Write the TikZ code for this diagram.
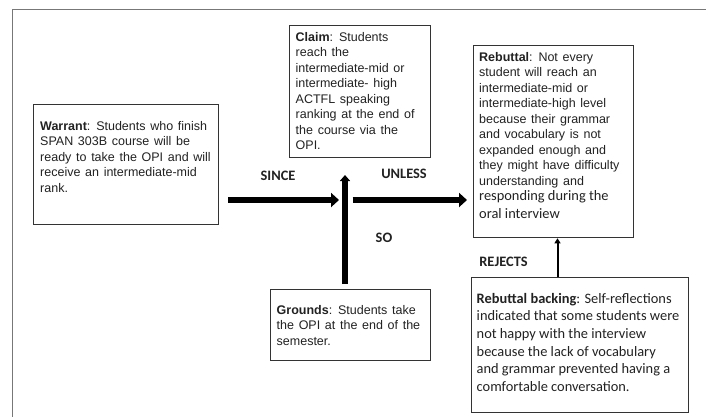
\documentclass[tikz,border=0pt]{standalone}
\usepackage{fontspec}
\setmainfont{Liberation Sans}[WordSpace=1.35]
\newfontfamily\calib{Carlito}
\usetikzlibrary{arrows.meta}
\definecolor{txt}{HTML}{222222}
\definecolor{boxline}{HTML}{333333}
\definecolor{frame}{HTML}{777777}
\tikzset{
  box/.style={draw=boxline, line width=1.3pt, rectangle, inner sep=0pt, anchor=north west},
  boxtext/.style={anchor=north west, inner sep=0pt, align=left, text=txt,
    font=\fontsize{12.5}{15.5}\selectfont},
  caltext/.style={anchor=north west, inner sep=0pt, align=left, text=txt,
    font=\calib\fontsize{14.4}{17.6}\selectfont},
  lbl/.style={inner sep=0pt, text=txt, font=\calib\bfseries\fontsize{14.4}{17}\selectfont},
  bigarrow/.style={line width=6pt, -{Triangle[width=14pt,length=8pt]}},
  vertarrow/.style={line width=6pt, -{Triangle[width=10pt,length=6pt]}},
  thinarrow/.style={line width=2pt, -{Triangle[width=6pt,length=5pt]}}
}
\begin{document}
\begin{tikzpicture}[x=1pt,y=-1pt]
\useasboundingbox (0,0) rectangle (706,416);
\clip (0,0) rectangle (706,416);
\fill[white] (0,0) rectangle (706,416);
\draw[frame, line width=1.5pt] (12.5,9.5) rectangle (730,440);

% boxes
\node[box, minimum width=185pt, minimum height=120pt] (warrant) at (33,104) {};
\node[box, minimum width=141pt, minimum height=132pt] (claim) at (289,25) {};
\node[box, minimum width=160pt, minimum height=192pt] (rebuttal) at (473,45) {};
\node[box, minimum width=160pt, minimum height=71pt] (grounds) at (270,289) {};
\node[box, minimum width=217pt, minimum height=135pt] (backing) at (470.5,277) {};

% texts
\node[boxtext] (warranttext) at (40,121) {\textbf{Warrant}: Students who finish\\SPAN 303B course will be\\ready to take the OPI and will\\receive an intermediate-mid\\rank.};
\node[boxtext] (claimtext) at (295.5,32) {\textbf{Claim}: Students\\reach the\\intermediate-mid or\\intermediate- high\\ACTFL speaking\\ranking at the end of\\the course via the\\OPI.};
\node[boxtext] (rebuttaltext) at (479,52) {\textbf{Rebuttal}: Not every\\student will reach an\\intermediate-mid or\\intermediate-high level\\because their grammar\\and vocabulary is not\\expanded enough and\\they might have difficulty\\understanding and};
\node[caltext] (rebuttaltext2) at (479,190.5) {responding during the\\oral interview};
\node[boxtext] (groundstext) at (276.5,305) {\textbf{Grounds}: Students take\\the OPI at the end of the\\semester.};
\node[caltext] (backingtext) at (476.5,293) {\textbf{Rebuttal backing}: Self-reflections\\indicated that some students were\\not happy with the interview\\because the lack of vocabulary\\and grammar prevented having a\\comfortable conversation.};

% connectors
\coordinate (hub) at (345,200);
\coordinate (sinceend) at (339,200);
\coordinate (unlessstart) at (352.7,200);
\coordinate (sotip) at (345,175);
\coordinate (rejx) at (557.5,0);
\draw[bigarrow, shorten <=9pt] (warrant.east |- hub) -- (sinceend);
\draw[vertarrow, shorten <=5pt] (grounds.north -| hub) -- (sotip);
\draw[bigarrow, shorten >=6pt] (unlessstart) -- (rebuttal.west |- hub);
\draw[thinarrow] (backing.north -| rejx) -- (rebuttal.south -| rejx);

% labels
\node[lbl] (since) at (278,176) {SINCE};
\node[lbl] (unless) at (404,174) {UNLESS};
\node[lbl] (so) at (384,238) {SO};
\node[lbl] (rejects) at (503.5,262) {REJECTS};
\end{tikzpicture}
\end{document}
